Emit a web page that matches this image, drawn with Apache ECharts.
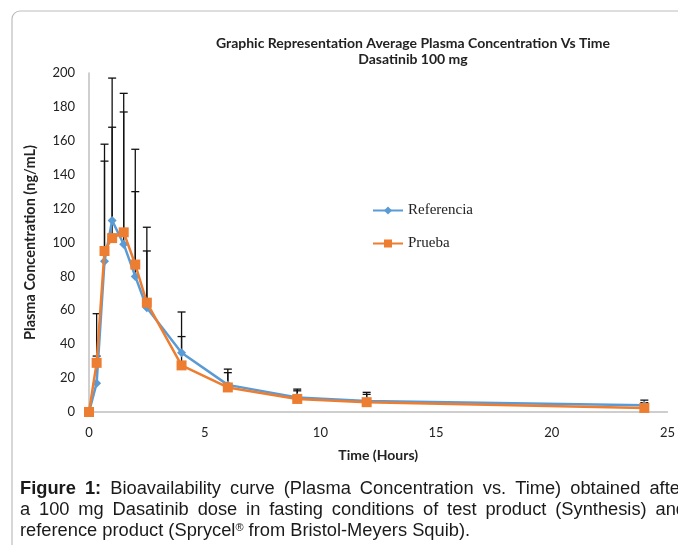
<!DOCTYPE html>
<html><head><meta charset="utf-8">
<script src="https://cdn.jsdelivr.net/npm/echarts@6/dist/echarts.min.js"></script>
<style>html,body{margin:0;padding:0;background:#fff}#c{width:678px;height:545px}</style>
</head><body><div id="c"></div>
<script>
const timeHours = [0, 0.33, 0.67, 1, 1.5, 2, 2.5, 4, 6, 9, 12, 24];
const referencia = [0, 17, 89, 113, 99, 80, 61.5, 35, 16, 8.5, 6.5, 4];
const prueba = [0, 29, 95, 102.6, 106, 87, 64.5, 27.5, 14.5, 7.7, 5.8, 2.4];
const referenciaUpper = [0, 58, 158, 197, 188, 155, 109, 59, 25.3, 13.5, 11.6, 7];
const pruebaUpper = [0, 33, 148, 168, 177, 130, 95, 44.5, 23.2, 12.5, 10.4, 5.5];
const titleLines = ['Graphic Representation Average Plasma Concentration Vs Time', 'Dasatinib 100 mg'];
const captionLines = [
  ['Figure 1:', 'Bioavailability curve (Plasma Concentration vs. Time) obtained after'],
  ['', 'a 100 mg Dasatinib dose in fasting conditions of test product (Synthesis) and'],
  ['', 'reference product (Sprycel® from Bristol-Meyers Squib).']
];

const chart = echarts.init(document.getElementById('c'));

function pairs(xs, ys) { return xs.map((x, i) => [x, ys[i]]); }
function errData(xs, ys, up) { return xs.map((x, i) => [x, ys[i], up[i]]); }

function errRender(params, api) {
  const x = api.value(0), lo = api.value(1), hi = api.value(2);
  if (hi - lo <= 0.01) return null;
  const p1 = api.coord([x, lo]), p2 = api.coord([x, hi]);
  const st = { stroke: '#111', lineWidth: 1.3 };
  return { type: 'group', children: [
    { type: 'line', shape: { x1: p1[0], y1: p1[1], x2: p2[0], y2: p2[1] }, style: st },
    { type: 'line', shape: { x1: p2[0] - 4, y1: p2[1], x2: p2[0] + 4, y2: p2[1] }, style: st }
  ]};
}

// caption with justified lines
const capFont = 18.3;
const capFamily = '"Liberation Sans", Arial, sans-serif';
const ctx = document.createElement('canvas').getContext('2d');
function w(text, bold, size) { ctx.font = (bold ? 'bold ' : '') + (size || capFont) + 'px ' + capFamily; return ctx.measureText(text).width; }
function wordWidth(o) {
  if (o.t.indexOf('®') >= 0) {
    const parts = o.t.split('®');
    return w(parts[0], o.b) + w('®', o.b, 11) + w(parts[1] || '', o.b);
  }
  return w(o.t, o.b);
}
const capLeft = 20, capRight = 686;
const capY = [489, 510, 531];
const capEls = [];
captionLines.forEach((ln, li) => {
  const words = [];
  if (ln[0]) ln[0].split(' ').forEach(t => words.push({ t, b: true }));
  ln[1].split(' ').forEach(t => words.push({ t, b: false }));
  const total = words.reduce((s, o) => s + wordWidth(o), 0);
  const justify = li < 2;
  const gap = justify ? (capRight - capLeft - total) / (words.length - 1) : w(' ', false);
  let x = capLeft;
  words.forEach(o => {
    const font = (o.b ? 'bold ' : '') + capFont + 'px ' + capFamily;
    if (o.t.indexOf('®') >= 0) {
      const parts = o.t.split('®');
      capEls.push({ type: 'text', x: x, y: capY[li], style: { text: '{a|' + parts[0] + '}{s|®}{a|' + (parts[1] || '') + '}', rich: {
        a: { font: font, fill: '#1a1a1a', verticalAlign: 'bottom' },
        s: { font: '11px ' + capFamily, fill: '#1a1a1a', verticalAlign: 'top', padding: [0, 0, 6, 0] }
      }, fill: '#1a1a1a', textVerticalAlign: 'middle' } });
    } else {
      capEls.push({ type: 'text', x: x, y: capY[li], style: { text: o.t, font: font, fill: '#1a1a1a', textVerticalAlign: 'middle' } });
    }
    x += wordWidth(o) + gap;
  });
});

chart.setOption({
  animation: false,
  backgroundColor: '#fff',
  title: {
    text: titleLines.join('\n'), left: 408, top: 30, textAlign: 'center',
    textStyle: { fontFamily: 'Lato, "Open Sans", sans-serif', fontWeight: 'bold', fontSize: 14, lineHeight: 16, color: '#222' }
  },
  legend: {
    orient: 'vertical', left: 367, top: 198, itemGap: 18, itemWidth: 30, itemHeight: 10,
    textStyle: { fontFamily: '"Liberation Serif", "Times New Roman", serif', fontSize: 15, color: '#222' },
    data: ['Referencia', 'Prueba']
  },
  grid: { left: 89, right: 10, top: 73, bottom: 133, containLabel: false },
  xAxis: {
    type: 'value', min: 0, max: 25, interval: 5,
    name: 'Time (Hours)', nameLocation: 'middle', nameGap: 36,
    nameTextStyle: { fontFamily: 'Lato, "Open Sans", sans-serif', fontWeight: 'bold', fontSize: 14, color: '#222' },
    axisLine: { show: true, lineStyle: { color: '#bfbfbf', width: 1.5 } },
    axisTick: { show: false }, splitLine: { show: false },
    axisLabel: { fontFamily: 'Lato, "Open Sans", sans-serif', fontSize: 13, color: '#222', margin: 14 }
  },
  yAxis: {
    type: 'value', min: 0, max: 200, interval: 20,
    name: 'Plasma Concentration (ng/mL)', nameLocation: 'middle', nameGap: 51, nameRotate: 90,
    nameTextStyle: { fontFamily: 'Lato, "Open Sans", sans-serif', fontWeight: 'bold', fontSize: 14.5, color: '#222' },
    axisLine: { show: true, lineStyle: { color: '#bfbfbf', width: 1.5 } },
    axisTick: { show: false }, splitLine: { show: false },
    axisLabel: { fontFamily: 'Lato, "Open Sans", sans-serif', fontSize: 13, color: '#222', margin: 14 }
  },
  series: [
    { type: 'custom', name: 'errRef', renderItem: errRender, data: errData(timeHours, referencia, referenciaUpper), z: 1, silent: true, encode: { x: 0, y: [1, 2] } },
    { type: 'custom', name: 'errPru', renderItem: errRender, data: errData(timeHours, prueba, pruebaUpper), z: 1, silent: true, encode: { x: 0, y: [1, 2] } },
    { type: 'line', name: 'Referencia', data: pairs(timeHours, referencia), z: 3,
      symbol: 'diamond', symbolSize: 9, showAllSymbol: true,
      lineStyle: { color: '#5B9BD5', width: 2.5 }, itemStyle: { color: '#5B9BD5' } },
    { type: 'line', name: 'Prueba', data: pairs(timeHours, prueba), z: 4,
      symbol: 'rect', symbolSize: 10, showAllSymbol: true,
      lineStyle: { color: '#ED7D31', width: 2.5 }, itemStyle: { color: '#ED7D31' } }
  ],
  graphic: [
    { type: 'rect', shape: { x: 12, y: 11, width: 720, height: 600, r: 8 }, style: { fill: 'none', stroke: '#bdbdbd', lineWidth: 1.2 }, silent: true, z: -1 }
  ].concat(capEls)
});
</script></body></html>
